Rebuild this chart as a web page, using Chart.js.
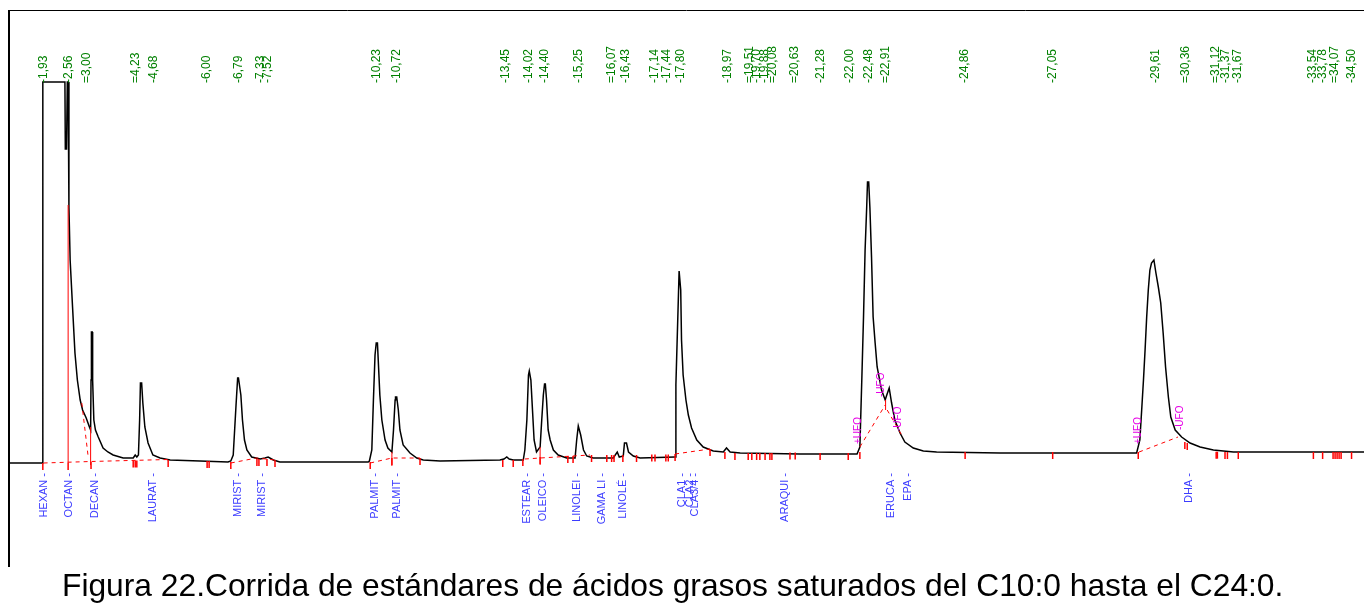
<!DOCTYPE html>
<html><head><meta charset="utf-8">
<script src="https://cdn.jsdelivr.net/npm/chart.js@4/dist/chart.umd.min.js"></script>
<style>
html,body{margin:0;padding:0;background:#fff;}
#wrap{position:relative;width:1364px;height:609px;overflow:hidden;background:#fff;}
#c{position:absolute;left:0;top:0;}
#cap{position:absolute;left:62px;top:570px;font-family:"Liberation Sans",Arial,sans-serif;font-size:31.75px;line-height:31.75px;white-space:nowrap;color:#000;}
</style></head><body>
<div id="wrap"><canvas id="c" width="1364" height="609"></canvas>
<div id="cap">Figura 22.Corrida de estándares de ácidos grasos saturados del C10:0 hasta el C24:0.</div></div>
<script>
// ---- Chromatogram trace: [retention time (min), signal (a.u.)] ----
const traceSolvent = [[1.07,0],[1.90,0],[1.91,381],[2.46,381],[2.47,314],[2.50,314],[2.52,381],[2.54,381],[2.56,256],[2.59,203],[2.65,156],[2.71,110],[2.77,83],[2.84,63],[2.90,53],[2.99,45],[3.07,36],[3.10,33],[3.11,83],[3.12,131],[3.14,131],[3.15,83],[3.18,43],[3.22,33],[3.29,26],[3.41,15],[3.53,11],[3.66,8],[3.91,5],[4.16,5],[4.21,8],[4.25,6],[4.29,8],[4.32,43],[4.34,80],[4.37,80],[4.40,60],[4.45,36],[4.53,20],[4.65,8],[4.83,5],[5.08,3],[5.82,2],[6.52,1]];
const traceC14C16 = [[6.59,2],[6.65,8],[6.72,58],[6.76,85],[6.78,85],[6.84,68],[6.88,43],[6.93,23],[6.99,13],[7.11,6],[7.32,4],[7.44,5],[7.52,6],[7.65,3],[7.81,1],[8.31,1],[10.01,1],[10.04,2],[10.10,13],[10.14,63],[10.18,108],[10.21,120],[10.24,120],[10.26,103],[10.30,68],[10.35,43],[10.43,23],[10.50,15],[10.60,11],[10.64,33],[10.68,63],[10.69,66],[10.72,66],[10.76,53],[10.80,33],[10.88,18],[11.05,10],[11.22,5],[11.38,3],[11.80,2]];
const traceC18CLA = [[13.29,3],[13.39,4],[13.46,6],[13.52,4],[13.62,3],[13.87,3],[13.91,13],[13.96,43],[14.00,88],[14.02,92],[14.06,83],[14.10,53],[14.14,23],[14.20,11],[14.29,16],[14.33,43],[14.37,68],[14.40,79],[14.42,79],[14.45,63],[14.49,33],[14.54,23],[14.62,13],[14.74,8],[14.95,5],[15.16,5],[15.20,23],[15.24,37],[15.30,28],[15.37,13],[15.45,7],[15.61,5],[16.11,5],[16.21,11],[16.26,6],[16.36,7],[16.39,20],[16.44,20],[16.49,11],[16.61,7],[16.78,5],[17.65,6],[17.67,78],[17.73,163],[17.75,192],[17.77,192],[17.79,173],[17.81,123],[17.85,88],[17.92,63],[17.98,48],[18.06,35],[18.19,23],[18.35,16],[18.60,12],[18.85,11],[18.93,15],[19.02,11],[19.27,10],[20.76,9]];
const traceC22EPA = [[22.18,9],[22.25,16],[22.30,86],[22.34,145],[22.38,213],[22.42,256],[22.44,281],[22.47,281],[22.50,255],[22.54,206],[22.58,146],[22.63,120],[22.68,96],[22.79,73],[22.88,63],[22.92,68],[22.98,75],[23.04,60],[23.12,43],[23.25,30],[23.37,21],[23.58,15],[23.83,12],[24.16,11],[25.74,10]];
const traceDHA = [[29.14,10],[29.22,23],[29.27,56],[29.31,83],[29.35,113],[29.39,146],[29.43,173],[29.47,193],[29.51,200],[29.57,203],[29.62,190],[29.68,176],[29.74,160],[29.80,130],[29.86,96],[29.93,66],[29.99,46],[30.10,33],[30.26,26],[30.47,20],[30.72,16],[31.05,13],[31.55,11],[34.80,11]];

// ---- integration baselines (dashed red) ----
const integBaselines = [
  [[1.93,0],[3.10,1.5],[5.03,3.5]],
  [[2.88,60],[2.96,33],[3.04,6]],
  [[6.59,0],[7.23,5],[7.69,3]],
  [[10.06,0],[10.60,5],[11.30,5]],
  [[13.91,4],[14.29,5],[15.53,8]],
  [[17.65,9],[18.52,14]],
  [[22.25,16],[22.88,58]],
  [[22.93,53],[23.29,28]],
  [[29.20,11],[30.17,26]]
];
// ---- perpendicular drop lines (solid red) ----
const dropLines = [
  [[2.54,0],[2.54,258]],
  [[3.10,-2],[3.10,36]],
  [[10.60,-3],[10.60,11]],
  [[14.29,-2],[14.29,16]],
  [[22.89,53],[22.89,63]]
];
// ---- peak start/end markers: [time, baseline level] ----
const peakMarks = [[1.91,0],[2.54,0],[3.11,1],[4.16,2.5],[4.21,2.5],[4.25,2.5],[5.03,3],[6.00,2],[6.05,2],[6.59,1],[7.24,4],[7.29,4],[7.49,4],[7.69,3],[10.06,1],[10.60,5],[11.30,5],[13.36,3],[13.62,3],[13.86,4],[14.29,6],[14.98,7],[15.11,7],[15.57,8],[15.95,8],[16.07,8],[16.13,8],[16.35,8],[16.69,8],[17.07,8.5],[17.15,8.5],[17.42,8.5],[17.48,8.5],[17.65,9],[18.52,14],[18.89,11],[19.14,10],[19.47,10],[19.56,10],[19.68,10],[19.76,10],[19.89,10],[20.01,10],[20.06,10],[20.51,10.5],[20.64,10.5],[21.26,10],[21.96,10],[22.25,11],[24.87,11],[27.05,11],[29.18,11],[30.34,21],[30.40,20],[31.12,11.3],[31.15,11.3],[31.34,11],[31.40,11],[31.67,11],[33.54,11],[33.77,11],[34.03,11],[34.08,11],[34.13,11],[34.18,11],[34.23,11],[34.49,11]];

// ---- retention time labels (top, green) ----
const rtTimes  = [1.93,2.56,3.00,4.23,4.68,6.00,6.79,7.33,7.52,10.23,10.72,13.45,14.02,14.40,15.25,16.07,16.43,17.14,17.44,17.80,18.97,19.51,19.70,19.88,20.08,20.63,21.28,22.00,22.48,22.91,24.86,27.05,29.61,30.36,31.12,31.37,31.67,33.54,33.78,34.07,34.50];
const rtLabels = ["-1,93","-2,56","=3,00","=4,23","-4,68","-6,00","-6,79","-7,33","-7,52","-10,23","-10,72","-13,45","-14,02","-14,40","-15,25","=16,07","-16,43","-17,14","-17,44","-17,80","-18,97","=19,51","-19,70","-19,88","=20,08","=20,63","-21,28","-22,00","-22,48","=22,91","-24,86","-27,05","-29,61","=30,36","=31,12","-31,37","-31,67","-33,54","-33,78","=34,07","-34,50"];
// ---- compound names (bottom, blue) ----
const compoundNames = ["HEXAN -","OCTAN -","DECAN -","LAURAT -","MIRIST -","MIRIST -","PALMIT -","PALMIT -","ESTEAR -","OLEICO -","LINOLEI -","GAMA LI -","LINOLÉ -","CLA1 -","CLA2 -","CLA3/4 -","ARAQUI -","ERUCA -","EPA -","DHA -"];
const compoundTimes = [1.93,2.56,3.20,4.65,6.77,7.37,10.18,10.73,13.96,14.36,15.21,15.83,16.35,17.82,18.02,18.15,20.39,23.02,23.45,30.44];
// ---- baseline event labels (magenta) ----
const eventLabels = ["+UFO","-UFO","-UFO","+UFO","-UFO"];
const eventTimes  = [22.20,22.78,23.21,29.17,30.22];
const eventLevels = [19,66,32,19,33];

const trace = [].concat(traceSolvent, traceC14C16, traceC18CLA, traceC22EPA, traceDHA);
const toXY = arr => arr.map(p => ({x:p[0], y:p[1]}));

const datasets = [];
integBaselines.forEach(seg => datasets.push({data:toXY(seg), borderColor:'#ff0000', borderWidth:1, borderDash:[4,4], pointRadius:0, order:1}));
dropLines.forEach(seg => datasets.push({data:toXY(seg), borderColor:'#ff0000', borderWidth:1, pointRadius:0, order:1}));
datasets.push({data:peakMarks.map(p=>({x:p[0], y:p[1]-3.5})), showLine:false, pointStyle:'line', pointRotation:90, pointRadius:3.5, pointBorderColor:'#ff0000', pointBorderWidth:1.5, borderColor:'#ff0000', order:0});
datasets.push({data:toXY(trace), borderColor:'#000', borderWidth:1.5, pointRadius:0, tension:0, order:2});

const textPlugin = {
  id:'chromText',
  afterDatasetsDraw(chart){
    const ctx = chart.ctx, xs = chart.scales.x, ys = chart.scales.y, a = chart.chartArea;
    ctx.save();
    // frame
    ctx.strokeStyle = '#000';
    ctx.lineWidth = 2;
    ctx.beginPath(); ctx.moveTo(a.left, a.top); ctx.lineTo(a.left, a.bottom + 2); ctx.stroke();
    ctx.lineWidth = 1;
    ctx.beginPath(); ctx.moveTo(a.left, a.top + 0.5); ctx.lineTo(a.right, a.top + 0.5); ctx.stroke();
    const rot = (txt, x, y, align, color, font) => {
      ctx.save(); ctx.translate(x, y); ctx.rotate(-Math.PI/2);
      ctx.font = font; ctx.fillStyle = color; ctx.textAlign = align; ctx.textBaseline = 'middle';
      ctx.fillText(txt, 0, 0); ctx.restore();
    };
    rtTimes.forEach((t,i) => rot(rtLabels[i], Math.round(xs.getPixelForValue(t)), a.top + 73, 'left', '#008000', '12px "Liberation Sans", Arial, sans-serif'));
    compoundTimes.forEach((t,i) => rot(compoundNames[i], Math.round(xs.getPixelForValue(t)), ys.getPixelForValue(-10), 'right', '#3c3cff', '11px "Liberation Sans", Arial, sans-serif'));
    eventTimes.forEach((t,i) => rot(eventLabels[i], Math.round(xs.getPixelForValue(t)), ys.getPixelForValue(eventLevels[i]), 'left', '#e600e6', '10px "Liberation Sans", Arial, sans-serif'));
    ctx.restore();
  }
};

new Chart(document.getElementById('c'), {
  type:'line',
  data:{datasets},
  options:{
    responsive:false, animation:false, devicePixelRatio:1,
    layout:{autoPadding:false, padding:{left:9, top:10, right:0, bottom:44}},
    plugins:{legend:{display:false}, tooltip:{enabled:false}},
    events:[],
    scales:{
      x:{type:'linear', min:1.068, max:34.80, display:false},
      y:{type:'linear', min:-102, max:453, display:false}
    }
  },
  plugins:[textPlugin]
});
</script>
</body></html>
